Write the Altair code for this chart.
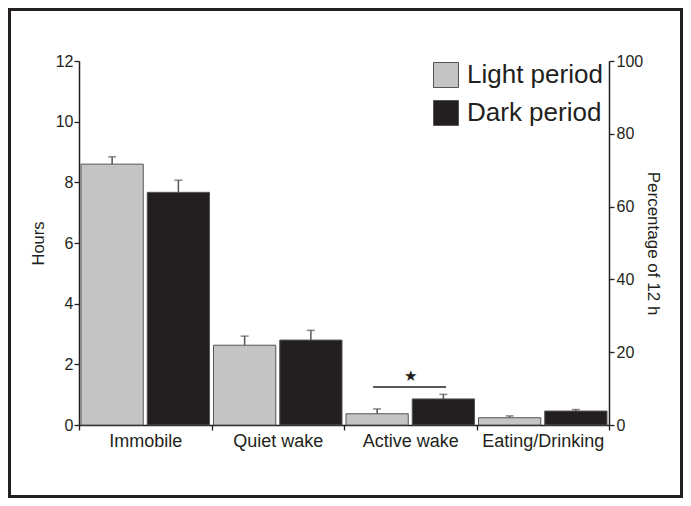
import altair as alt
import pandas as pd

categories = ["Immobile", "Quiet wake", "Active wake", "Eating/Drinking"]
periods = ["Light period", "Dark period"]
light_hours = [8.6, 2.63, 0.37, 0.24]
dark_hours = [7.67, 2.80, 0.86, 0.46]
light_err = [0.24, 0.30, 0.16, 0.06]
dark_err = [0.40, 0.32, 0.15, 0.05]
y_ticks = [0, 2, 4, 6, 8, 10, 12]
pct_ticks = [0, 20, 40, 60, 80, 100]
sig_category = ["Active wake"]
sig_level = [1.25]
star_level = [1.6]

rows = []
for i, c in enumerate(categories):
    rows.append(dict(category=c, period=periods[0], hours=light_hours[i],
                     upper=light_hours[i] + light_err[i]))
    rows.append(dict(category=c, period=periods[1], hours=dark_hours[i],
                     upper=dark_hours[i] + dark_err[i]))
df = pd.DataFrame(rows)
sig_df = pd.DataFrame({"category": sig_category, "level": sig_level, "star": star_level})
pct_df = pd.DataFrame({"pct": pct_ticks})
frame_df = pd.DataFrame({"a": [0]})

INK = "#231f20"
FONT = "Liberation Sans"
W, H = 530, 364

xscale = alt.Scale(domain=categories, paddingInner=0, paddingOuter=0)
xaxis = alt.Axis(title=None, labelFontSize=18, labelColor=INK, tickBand="extent",
                 tickSize=5, labelPadding=2, domainColor=INK, tickColor=INK,
                 domainWidth=1.5, tickWidth=1.3, labelAngle=0)
xoff = alt.XOffset("period:N", sort=periods,
                   scale=alt.Scale(domain=periods, paddingInner=0.06, paddingOuter=0.03))
yscale = alt.Scale(domain=[0, 12])
yaxis = alt.Axis(values=y_ticks, title="Hours", titleFontSize=16.5, titleFontWeight="normal",
                 titleColor=INK, titlePadding=9, labelFontSize=16, labelColor=INK,
                 tickSize=5, labelPadding=1, domainColor=INK, tickColor=INK,
                 domainWidth=1.5, tickWidth=1.3, grid=False)


def X():
    return alt.X("category:N", sort=categories, scale=xscale, axis=xaxis)


def Y(field):
    return alt.Y(f"{field}:Q", scale=yscale, axis=yaxis)


color = alt.Color("period:N", sort=periods,
                  scale=alt.Scale(domain=periods, range=["#c4c4c4", INK]),
                  legend=alt.Legend(title=None, orient="none", legendX=354, legendY=1,
                                    symbolType="square", symbolSize=625,
                                    symbolStrokeColor="#555555", symbolStrokeWidth=1,
                                    labelFontSize=26, labelColor=INK, labelOffset=8,
                                    rowPadding=8, padding=0, symbolOpacity=1))

bars = alt.Chart(df).mark_bar(stroke="#555555", strokeWidth=1, opacity=1).encode(
    x=X(), xOffset=xoff, y=Y("hours"), color=color)

err = alt.Chart(df).mark_rule(color="#555555", strokeWidth=1.5).encode(
    x=X(), xOffset=xoff, y=Y("hours"), y2="upper:Q")

caps = alt.Chart(df).mark_tick(orient="horizontal", size=8, thickness=1.5,
                               color="#555555").encode(
    x=X(), xOffset=xoff, y=Y("upper"))

sig = alt.Chart(sig_df).mark_rule(color=INK, strokeWidth=1.5).encode(
    x=alt.X("category:N", sort=categories, scale=xscale, axis=xaxis, bandPosition=0.22),
    x2=alt.X2("category", bandPosition=0.77),
    y=Y("level"))

star = alt.Chart(sig_df).mark_text(text="★", fontSize=15, color=INK).encode(
    x=alt.X("category:N", sort=categories, scale=xscale, axis=xaxis, bandPosition=0.5),
    y=Y("star"))

frame = alt.Chart(frame_df).mark_rect(fill=None, stroke=INK, strokeWidth=3).encode(
    x=alt.value(-69.5), x2=alt.value(602.5), y=alt.value(-51.5), y2=alt.value(435.5))

inner = alt.layer(frame, bars, err, caps, sig, star)

right = alt.Chart(pct_df).mark_point(opacity=0).encode(
    y=alt.Y("pct:Q", scale=alt.Scale(domain=[0, 100]),
            axis=alt.Axis(orient="right", values=pct_ticks, title="Percentage of 12 h",
                          titleAngle=90, titleFontSize=17, titleFontWeight="normal",
                          titleColor=INK, titlePadding=1, labelFontSize=16,
                          labelColor=INK, tickSize=5, labelPadding=2,
                          domainColor=INK, tickColor=INK, domainWidth=1.5,
                          tickWidth=1.3, grid=False)))

chart = alt.layer(inner, right).resolve_scale(y="independent").properties(
    width=W, height=H,
    autosize=alt.AutoSizeParams(type="none"),
    padding={"left": 71, "top": 53, "right": 74, "bottom": 73},
).configure(font=FONT).configure_view(stroke=None)

chart.save("out.html", embed_options={"renderer": "svg", "actions": False})
